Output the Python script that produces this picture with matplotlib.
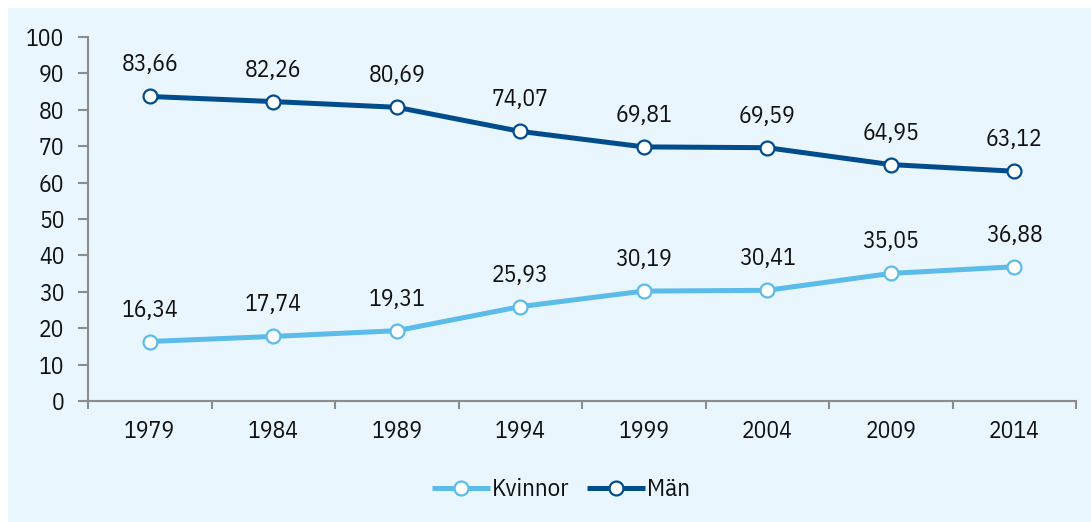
import matplotlib

matplotlib.use("Agg")
import matplotlib.pyplot as plt
from matplotlib.patches import Rectangle

plt.rcParams["font.family"] = ["IBM Plex Sans Condensed", "DejaVu Sans"]

years = ["1979", "1984", "1989", "1994", "1999", "2004", "2009", "2014"]
kvinnor = [16.34, 17.74, 19.31, 25.93, 30.19, 30.41, 35.05, 36.88]
man = [83.66, 82.26, 80.69, 74.07, 69.81, 69.59, 64.95, 63.12]

LIGHT = "#5BBBE9"
DARK = "#004C8D"
BG = "#EAF6FD"
SPINE = "#8C8C8C"

fig = plt.figure(figsize=(10.91, 5.22), dpi=100)
fig.patch.set_facecolor("white")
fig.add_artist(Rectangle((8 / 1091, 0), 1, 1 - 8 / 522, transform=fig.transFigure,
                         facecolor=BG, edgecolor="none", zorder=0))

ax = fig.add_axes([88 / 1091, 1 - 401 / 522, (1076 - 88) / 1091, (401 - 37) / 522])
ax.set_facecolor("none")

x = list(range(len(years)))
for vals, col, name in [(kvinnor, LIGHT, "Kvinnor"), (man, DARK, "Män")]:
    ax.plot(x, vals, color=col, lw=3.6, marker="o", ms=10, mfc="white",
            mec=col, mew=1.6, label=name, solid_capstyle="butt", zorder=3)
    for xi, v in zip(x, vals):
        ax.annotate(f"{v:.2f}".replace(".", ","), (xi, v), xytext=(0, 18),
                    textcoords="offset points", ha="center", va="baseline",
                    fontsize=17, color="#111111")

ax.set_xlim(-0.5, len(years) - 0.5)
ax.set_ylim(0, 100)
ax.set_yticks(range(0, 101, 10))
ax.set_xticks(x)
ax.set_xticklabels(years)
ax.set_xticks([i - 0.5 for i in range(len(years) + 1)], minor=True)
ax.tick_params(axis="x", which="major", length=0, pad=14, labelsize=17, labelcolor="#111111")
ax.tick_params(axis="x", which="minor", length=6, width=1.5, color=SPINE, direction="out")
ax.tick_params(axis="y", length=7, width=1.5, color=SPINE, pad=10, labelsize=17, labelcolor="#111111")

for s in ["top", "right"]:
    ax.spines[s].set_visible(False)
for s in ["left", "bottom"]:
    ax.spines[s].set_color(SPINE)
    ax.spines[s].set_linewidth(1.5)

leg = fig.legend(loc="center", bbox_to_anchor=(561 / 1091, 1 - 490 / 522), ncol=2,
                 frameon=False, fontsize=18, handlelength=2.3, handletextpad=0.1,
                 columnspacing=0.7)
for t in leg.get_texts():
    t.set_color("#111111")

fig.savefig("out.png", dpi=100)
